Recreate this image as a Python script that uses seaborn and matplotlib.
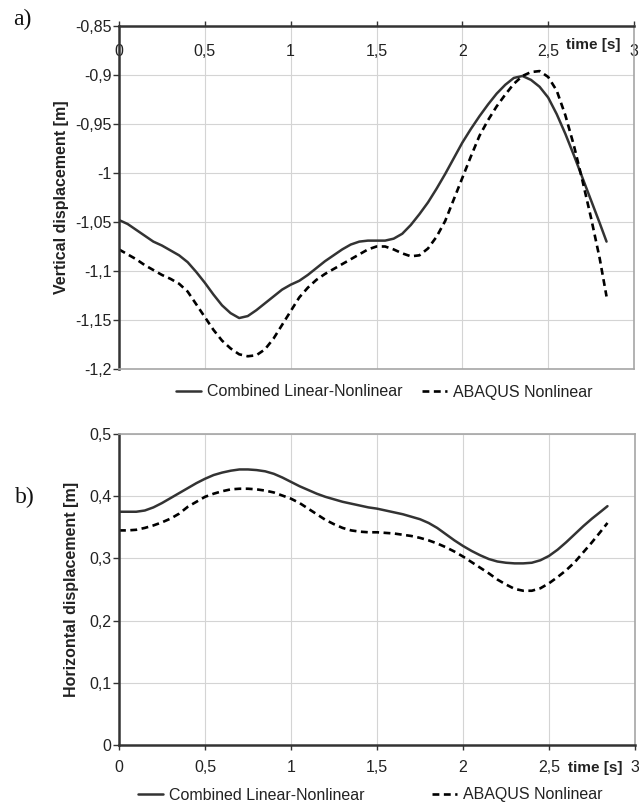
import numpy as np
import pandas as pd
import matplotlib
matplotlib.use("Agg")
import matplotlib.pyplot as plt
import seaborn as sns
from matplotlib.ticker import FuncFormatter, MultipleLocator

# ---------------- data ----------------
t_grid = [0.00, 0.05, 0.10, 0.15, 0.20, 0.25, 0.30, 0.35, 0.40, 0.45, 0.50, 0.55,
          0.60, 0.65, 0.70, 0.75, 0.80, 0.85, 0.90, 0.95, 1.00, 1.05, 1.10, 1.15,
          1.20, 1.25, 1.30, 1.35, 1.40, 1.45, 1.50, 1.55, 1.60, 1.65, 1.70, 1.75,
          1.80, 1.85, 1.90, 1.95, 2.00, 2.05, 2.10, 2.15, 2.20, 2.25, 2.30, 2.35,
          2.40, 2.45, 2.50, 2.55, 2.60, 2.65, 2.70, 2.75, 2.80, 2.84]

# a) vertical displacement [m]
v_vert_comb = [-1.048, -1.052, -1.058, -1.064, -1.070, -1.074, -1.079, -1.084, -1.091,
               -1.101, -1.112, -1.124, -1.135, -1.143, -1.148, -1.146, -1.140, -1.133,
               -1.126, -1.119, -1.114, -1.110, -1.104, -1.097, -1.090, -1.084, -1.078,
               -1.073, -1.070, -1.069, -1.069, -1.069, -1.067, -1.062, -1.053, -1.042,
               -1.030, -1.016, -1.001, -0.985, -0.969, -0.955, -0.942, -0.930, -0.919,
               -0.910, -0.903, -0.901, -0.905, -0.912, -0.923, -0.940, -0.960, -0.982,
               -1.005, -1.028, -1.051, -1.070]
v_vert_abq = [-1.078, -1.083, -1.088, -1.094, -1.099, -1.104, -1.108, -1.113, -1.121,
              -1.134, -1.147, -1.160, -1.171, -1.179, -1.185, -1.187, -1.186, -1.180,
              -1.169, -1.155, -1.141, -1.127, -1.117, -1.109, -1.103, -1.098, -1.093,
              -1.088, -1.083, -1.078, -1.075, -1.075, -1.078, -1.082, -1.085, -1.084,
              -1.077, -1.065, -1.049, -1.027, -1.005, -0.983, -0.962, -0.946, -0.932,
              -0.920, -0.909, -0.901, -0.897, -0.896, -0.902, -0.916, -0.941, -0.972,
              -1.008, -1.046, -1.087, -1.126]

# b) horizontal displacement [m]
v_hor_comb = [0.375, 0.375, 0.375, 0.377, 0.382, 0.389, 0.397, 0.405, 0.413, 0.421,
              0.428, 0.434, 0.438, 0.441, 0.443, 0.443, 0.442, 0.440, 0.436, 0.430,
              0.423, 0.416, 0.410, 0.404, 0.399, 0.395, 0.391, 0.388, 0.385, 0.382,
              0.380, 0.377, 0.374, 0.371, 0.367, 0.363, 0.357, 0.349, 0.339, 0.329,
              0.320, 0.312, 0.305, 0.299, 0.295, 0.293, 0.292, 0.292, 0.293, 0.297,
              0.304, 0.314, 0.326, 0.339, 0.352, 0.364, 0.375, 0.384]
v_hor_abq = [0.345, 0.345, 0.346, 0.349, 0.353, 0.358, 0.364, 0.372, 0.383, 0.391,
             0.399, 0.404, 0.408, 0.411, 0.412, 0.412, 0.411, 0.409, 0.406, 0.401,
             0.396, 0.389, 0.380, 0.371, 0.362, 0.355, 0.349, 0.345, 0.343, 0.342,
             0.342, 0.341, 0.340, 0.338, 0.336, 0.333, 0.329, 0.324, 0.318, 0.311,
             0.303, 0.294, 0.285, 0.276, 0.266, 0.258, 0.251, 0.248, 0.248, 0.252,
             0.260, 0.270, 0.281, 0.294, 0.310, 0.326, 0.343, 0.357]

labels = ["Combined Linear-Nonlinear", "ABAQUS Nonlinear"]
x_ticks = [0, 0.5, 1, 1.5, 2, 2.5, 3]

# ---------------- style ----------------
sns.set_theme(style="white")
plt.rcParams["font.family"] = ["Liberation Sans", "DejaVu Sans"]

DARK = "#333333"
GRAY = "#a6a6a6"
GRID = "#d4d4d4"
TXT = "#222222"


def comma_fmt(v, pos):
    s = f"{v:.2f}".rstrip("0").rstrip(".")
    if s in ("-0", ""):
        s = "0"
    return s.replace(".", ",")


fig = plt.figure(figsize=(6.39, 8.08), dpi=100)
W, H = 639, 808
ax1 = fig.add_axes([119 / W, 1 - 369 / H, (634 - 119) / W, (369 - 26) / H])
ax2 = fig.add_axes([119 / W, 1 - 745 / H, (635 - 119) / W, (745 - 434) / H])

solid_kw = dict(color=DARK, lw=1.8)
dash_kw = dict(color="black", lw=1.9, linestyle=(0, (2.6, 1.7)))

# ----- panel a -----
sns.lineplot(x=t_grid, y=v_vert_comb, ax=ax1, label=labels[0], sort=False, **solid_kw)
sns.lineplot(x=t_grid, y=v_vert_abq, ax=ax1, label=labels[1], sort=False, **dash_kw)
ax1.set_xlim(0, 3)
ax1.set_ylim(-1.2, -0.85)
ax1.yaxis.set_major_locator(MultipleLocator(0.05))
ax1.set_xticks(x_ticks)
ax1.xaxis.tick_top()
ax1.tick_params(axis="x", which="both", top=True, bottom=False, labeltop=True,
                labelbottom=False, direction="out", length=3.5, width=1,
                color=DARK, pad=-27.5, labelsize=11.5, labelcolor=TXT)
ax1.set_ylabel("Vertical displacement [m]", fontsize=11.5, fontweight="bold",
               color=TXT, labelpad=4)
ax1.text(0.92, 0.945, "time [s]", transform=ax1.transAxes, ha="center",
         va="center", fontsize=11, fontweight="bold", color=TXT)

# ----- panel b -----
sns.lineplot(x=t_grid, y=v_hor_comb, ax=ax2, label=labels[0], sort=False, **solid_kw)
sns.lineplot(x=t_grid, y=v_hor_abq, ax=ax2, label=labels[1], sort=False, **dash_kw)
ax2.set_xlim(0, 3)
ax2.set_ylim(0, 0.5)
ax2.yaxis.set_major_locator(MultipleLocator(0.1))
ax2.set_xticks(x_ticks)
ax2.tick_params(axis="x", which="both", bottom=True, direction="out", length=3.5,
                width=1, color=DARK, pad=7, labelsize=11.5, labelcolor=TXT)
ax2.set_ylabel("Horizontal displacement [m]", fontsize=11.5, fontweight="bold",
               color=TXT, labelpad=7)
ax2.text(0.922, -0.074, "time [s]", transform=ax2.transAxes, ha="center",
         va="center", fontsize=11, fontweight="bold", color=TXT)

for ax, dark_sp, gray_sp in [(ax1, ("left", "top"), ("right", "bottom")),
                             (ax2, ("left", "bottom"), ("right", "top"))]:
    ax.xaxis.set_major_formatter(FuncFormatter(comma_fmt))
    ax.yaxis.set_major_formatter(FuncFormatter(comma_fmt))
    ax.tick_params(axis="y", left=True, direction="out", length=4, width=1,
                   color=DARK, pad=1.5, labelsize=11.5, labelcolor=TXT)
    ax.grid(True, color=GRID, lw=0.8)
    ax.set_axisbelow(True)
    for sp in dark_sp:
        ax.spines[sp].set_color(DARK)
        ax.spines[sp].set_linewidth(1.8)
        ax.spines[sp].set_visible(True)
    for sp in gray_sp:
        ax.spines[sp].set_color(GRAY)
        ax.spines[sp].set_linewidth(1.2)
        ax.spines[sp].set_visible(True)
    ax.set_xlabel("")

# legends
h1, l1 = ax1.get_legend_handles_labels()
ax1.legend(h1, l1, loc="center", bbox_to_anchor=(384 / W, 1 - 392 / H),
           bbox_transform=fig.transFigure, ncol=2, frameon=False, fontsize=11.5,
           handlelength=1.6, handletextpad=0.35, columnspacing=1.2,
           labelcolor=TXT)
h2, l2 = ax2.get_legend_handles_labels()
ax2.legend(h2, l2, loc="center", bbox_to_anchor=(370 / W, 1 - 795 / H),
           bbox_transform=fig.transFigure, ncol=2, frameon=False, fontsize=11.5,
           handlelength=1.6, handletextpad=0.35, columnspacing=4.2,
           labelcolor=TXT)

# panel letters
fig.text(13 / W, 1 - 19 / H, "a)", fontsize=17, family=["Liberation Serif", "DejaVu Serif"],
         ha="left", va="center", color="#111111")
fig.text(15 / W, 1 - 497 / H, "b)", fontsize=17, family=["Liberation Serif", "DejaVu Serif"],
         ha="left", va="center", color="#111111")

fig.savefig("out.png", dpi=100)
